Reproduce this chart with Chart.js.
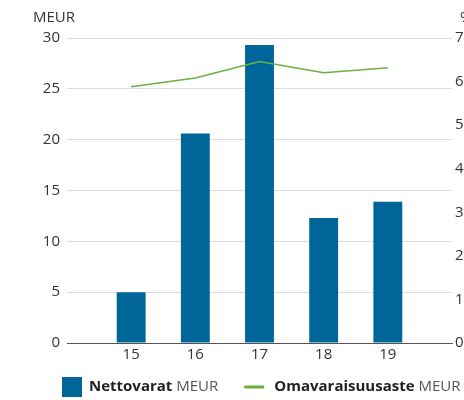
<!DOCTYPE html>
<html>
<head>
<meta charset="utf-8">
<script src="https://cdn.jsdelivr.net/npm/chart.js@4"></script>
<style>
  html, body { margin: 0; padding: 0; overflow: hidden; background: #fff; }
  #wrap { width: 495px; height: 400px; }
</style>
</head>
<body>
<div id="wrap"><canvas id="chartContainer"></canvas></div>
<script>
// empty slots at both ends: the axis runs from "14" to "20" without labels there
const years = ['', '15', '16', '17', '18', '19', ''];
const nettovarat = [null, 5.0, 20.6, 29.3, 12.3, 13.9, null];
const omavaraisuusaste = [null, 58.8, 60.8, 64.6, 62.0, 63.2, null];

const blue = 'rgb(0, 102, 153)';
const green = 'rgb(106, 178, 64)';
const font = '"Open Sans", sans-serif';

const extras = {
    id: 'extras',
    afterDraw(chart) {
        const ctx = chart.ctx;
        const yl = chart.scales.y;
        ctx.save();
        ctx.fillStyle = '#333';
        ctx.font = '15px ' + font;
        ctx.textBaseline = 'middle';
        ctx.textAlign = 'left';
        ctx.fillText('MEUR', yl.left + 33, 18);
        ctx.fillText('%', chart.scales.y1.left + 8, 18);

        // legend with bold series name + normal unit
        let x = 62;
        const y = 387;
        ctx.fillStyle = blue;
        ctx.fillRect(x, y - 10, 20, 20);
        x += 27;
        ctx.fillStyle = '#222';
        ctx.font = 'bold 15px ' + font;
        ctx.fillText('Nettovarat', x, y);
        x += ctx.measureText('Nettovarat ').width;
        ctx.font = '15px ' + font;
        ctx.fillStyle = '#555';
        ctx.fillText('MEUR', x, y);
        x += ctx.measureText('MEUR').width + 26;
        ctx.fillStyle = green;
        ctx.fillRect(x, y - 1.5, 20, 3);
        x += 30;
        ctx.fillStyle = '#222';
        ctx.font = 'bold 15px ' + font;
        ctx.fillText('Omavaraisuusaste', x, y);
        x += ctx.measureText('Omavaraisuusaste ').width;
        ctx.font = '15px ' + font;
        ctx.fillStyle = '#555';
        ctx.fillText('MEUR', x, y);
        ctx.restore();
    }
};

const data = {
    labels: years,
    datasets: [{
        type: 'line',
        label: 'Omavaraisuusaste MEUR',
        data: omavaraisuusaste,
        borderColor: green,
        borderWidth: 1.5,
        pointRadius: 0,
        tension: 0,
        yAxisID: 'y1',
        order: 0
    }, {
        type: 'bar',
        label: 'Nettovarat MEUR',
        data: nettovarat,
        backgroundColor: blue,
        categoryPercentage: 1,
        barPercentage: 0.45,
        yAxisID: 'y',
        order: 1
    }]
};

const config = {
    data: data,
    options: {
        responsive: true,
        maintainAspectRatio: false,
        animation: false,
        layout: { padding: { top: 38, bottom: 0, left: 0, right: 0 } },
        plugins: { legend: { display: false }, tooltip: { enabled: false } },
        scales: {
            x: {
                offset: false,
                grid: { display: false, drawTicks: false },
                border: { display: true, color: '#555', width: 1 },
                ticks: { color: '#333', font: { family: font, size: 15 }, padding: 3 },
                afterFit: s => { s.height = 57; }
            },
            y: {
                position: 'left',
                min: 0, max: 30,
                ticks: { stepSize: 5, color: '#333', font: { family: font, size: 15 }, padding: 7 },
                grid: { color: '#dcdcdc', drawTicks: false },
                border: { display: false },
                afterFit: s => { s.width = 67; }
            },
            y1: {
                position: 'right',
                min: 0, max: 70,
                ticks: { stepSize: 10, color: '#333', font: { family: font, size: 15 }, padding: 3 },
                grid: { display: false, drawTicks: false },
                border: { display: false },
                afterFit: s => { s.width = 43; }
            }
        }
    },
    plugins: [extras]
};

window.onload = function () {
    new Chart(document.getElementById('chartContainer'), config);
};
</script>
</body>
</html>
